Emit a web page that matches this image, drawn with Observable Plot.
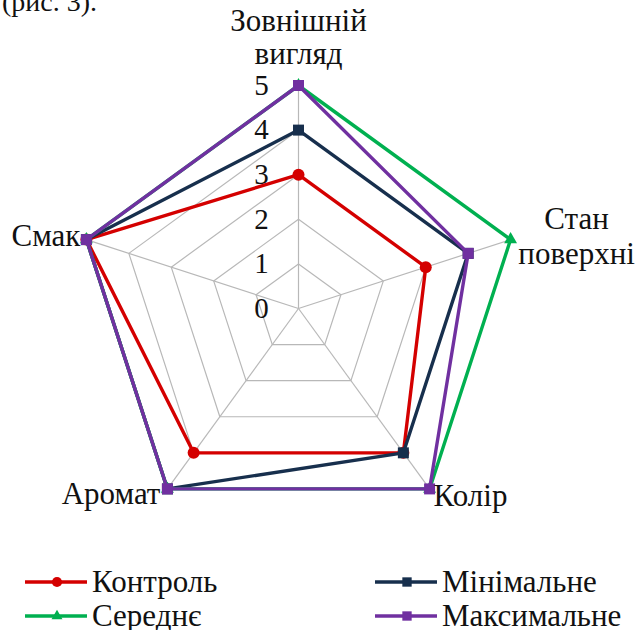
<!DOCTYPE html>
<html><head><meta charset="utf-8">
<script src="https://cdn.jsdelivr.net/npm/d3@7"></script>
<script src="https://cdn.jsdelivr.net/npm/@observablehq/plot@0.6"></script>
<style>
body{margin:0;background:#fff;font-family:"Liberation Serif","Times New Roman",serif;}
#wrap{position:relative;width:635px;height:630px;overflow:hidden;background:#fff;}
#cap{position:absolute;left:2px;top:-14px;font-size:28px;color:#111;}
#chart{position:absolute;left:0;top:0;}
#legend{position:absolute;left:0;top:0;width:635px;font-size:31px;color:#111;}
.item{position:absolute;display:flex;align-items:center;height:30px;white-space:nowrap;}
.item svg{margin-right:5px;}
</style></head><body>
<div id="wrap"><div id="chart"></div><div id="cap">(рис. 3).</div><div id="legend"></div></div>
<script>
const categories = ["Зовнішній\nвигляд", "Стан\nповерхні", "Колір", "Аромат", "Смак"];
const seriesNames = ["Контроль", "Мінімальне", "Середнє", "Максимальне"];
const control = [3, 3, 4, 4, 5];
const minimal = [4, 4, 4, 5, 5];
const medium  = [5, 5, 5, 5, 5];
const maximal = [5, 4, 5, 5, 5];
const tickValues = [0, 1, 2, 3, 4, 5];
const colors = ["#d40000", "#172f4d", "#00b050", "#7030a0"];
const symbols = ["circle", "square", "triangle", "square"];

const FONT = "'Liberation Serif', 'Times New Roman', serif";
const seriesValues = [control, minimal, medium, maximal];
const N = categories.length;
const maxV = 5;
const W = 635, H = 560, U = 44.6, CX = 298, CY = 308;
const ang = i => i * 2 * Math.PI / N;
const px = (v, i) => v * Math.sin(ang(i));
const py = (v, i) => v * Math.cos(ang(i));

const gridPts = [];
for (const t of tickValues.slice(1)) for (let i = 0; i <= N; i++) gridPts.push({t, x: px(t, i % N), y: py(t, i % N)});
const spokes = categories.map((c, i) => ({x2: px(maxV, i), y2: py(maxV, i)}));

const linePts = [];
const dotPts = [];
seriesNames.forEach((s, k) => {
  for (let i = 0; i <= N; i++) {
    const v = seriesValues[k][i % N];
    linePts.push({s, k, x: px(v, i % N), y: py(v, i % N)});
  }
  for (let i = 0; i < N; i++) {
    const v = seriesValues[k][i];
    dotPts.push({s, k, x: px(v, i), y: py(v, i)});
  }
});

const labelOpts = [
  {textAnchor: "middle", lineAnchor: "middle", dx: 0, dy: -49, lineHeight: 1.065},
  {textAnchor: "middle", lineAnchor: "middle", dx: 66, dy: -4, lineHeight: 1.13},
  {textAnchor: "start", lineAnchor: "middle", dx: 4, dy: 7},
  {textAnchor: "end", lineAnchor: "middle", dx: -7, dy: 5},
  {textAnchor: "end", lineAnchor: "middle", dx: -6, dy: -4}
];
const catLabels = categories.map((c, i) => ({c, i, x: px(maxV, i), y: py(maxV, i)}));
const symR = s => s === "triangle" ? 4.8 : (s === "circle" ? 6 : 6.2);

const marks = [
  Plot.line(gridPts, {x: "x", y: "y", z: "t", stroke: "#b8b8b8", strokeWidth: 1.2}),
  Plot.link(spokes, {x1: 0, y1: 0, x2: "x2", y2: "y2", stroke: "#b8b8b8", strokeWidth: 1.2}),
  Plot.text(tickValues, {x: -0.83, y: d => d, text: d => String(d), fontSize: 29, fill: "#111", textAnchor: "middle", lineAnchor: "middle"}),
];
seriesNames.forEach((s, k) => {
  marks.push(Plot.line(linePts.filter(d => d.k === k), {x: "x", y: "y", stroke: colors[k], strokeWidth: 3.4}));
  marks.push(Plot.dot(dotPts.filter(d => d.k === k), {x: "x", y: "y", fill: colors[k], stroke: "none", symbol: symbols[k], r: symR(symbols[k])}));
});
catLabels.forEach((d, i) => {
  marks.push(Plot.text([d], {x: "x", y: "y", text: "c", fontSize: 31, fill: "#111", ...labelOpts[i]}));
});

const chart = Plot.plot({
  width: W, height: H,
  marginTop: 0, marginBottom: 0, marginLeft: 0, marginRight: 0,
  x: {domain: [-CX / U, (W - CX) / U], axis: null},
  y: {domain: [-(H - CY) / U, CY / U], axis: null},
  style: {fontFamily: FONT, background: "transparent", overflow: "visible"},
  marks
});
document.getElementById("chart").appendChild(chart);

const legendPos = [[25, 567], [375, 567], [25, 601], [375, 601]];
const leg = document.getElementById("legend");
seriesNames.forEach((s, k) => {
  const div = document.createElement("div");
  div.className = "item";
  div.style.left = legendPos[k][0] + "px";
  div.style.top = legendPos[k][1] + "px";
  const svg = d3.create("svg").attr("width", 62).attr("height", 20);
  svg.append("line").attr("x1", 0).attr("x2", 62).attr("y1", 10).attr("y2", 10).attr("stroke", colors[k]).attr("stroke-width", 3.4);
  const r = symR(symbols[k]) * 0.85;
  const sym = {circle: d3.symbolCircle, square: d3.symbolSquare, triangle: d3.symbolTriangle}[symbols[k]];
  svg.append("path").attr("d", d3.symbol(sym, Math.PI * r * r)()).attr("transform", "translate(32,10)").attr("fill", colors[k]);
  div.appendChild(svg.node());
  const span = document.createElement("span");
  span.textContent = s;
  div.appendChild(span);
  leg.appendChild(div);
});
</script>
</body></html>
